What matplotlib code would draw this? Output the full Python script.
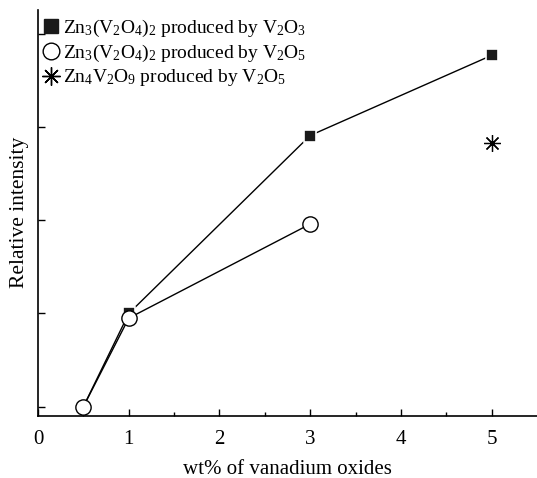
import matplotlib
matplotlib.use("Agg")
from matplotlib import pyplot as plt
from matplotlib.lines import Line2D

plt.rcParams["font.family"] = ["Liberation Serif", "DejaVu Serif"]
plt.rcParams["mathtext.fontset"] = "custom"
plt.rcParams["mathtext.rm"] = "Liberation Serif"
plt.rcParams["mathtext.it"] = "Liberation Serif:italic"

# data (relative intensity, arbitrary units)
wt_v2o3 = [0.5, 1, 3, 5]
int_v2o3 = [0.0, 1.0, 2.91, 3.77]
wt_v2o5 = [0.5, 1, 3]
int_v2o5 = [0.0, 0.95, 1.96]
wt_zn4 = [5]
int_zn4 = [2.83]

labels = [
    r"Zn$_3$(V$_2$O$_4$)$_2$ produced by V$_2$O$_3$",
    r"Zn$_3$(V$_2$O$_4$)$_2$ produced by V$_2$O$_5$",
    r"Zn$_4$V$_2$O$_9$ produced by V$_2$O$_5$",
]
xticks = [0, 1, 2, 3, 4, 5]
yticks = [0, 1, 2, 3, 4]

fig = plt.figure(figsize=(5.37, 4.78), dpi=100)
ax = fig.add_axes([0.0708, 0.1297, 0.9292, 0.85])

ax.plot(wt_v2o3, int_v2o3, color="black", lw=1, marker="s", ms=9,
        mfc="#1a1a1a", mec="white", mew=1.2, zorder=3)
ax.plot(wt_v2o5, int_v2o5, color="black", lw=1, marker="o", ms=11,
        mfc="white", mec="black", mew=1.0, zorder=4)
ax.plot(wt_zn4, int_zn4, ls="none", marker=(8, 2, 0), ms=12,
        mec="black", mew=0.9, zorder=3)

handles = [
    Line2D([], [], ls="none", marker="s", ms=10, mfc="#1a1a1a", mec="#1a1a1a"),
    Line2D([], [], ls="none", marker="o", ms=12, mfc="white", mec="black", mew=1.0),
    Line2D([], [], ls="none", marker=(8, 2, 0), ms=13, mec="black", mew=1.0),
]
ax.legend(handles, labels, loc="upper left", bbox_to_anchor=(-0.01, 1.005),
          frameon=False, fontsize=14, handlelength=0.8, handletextpad=0.25,
          labelspacing=0.2, borderaxespad=0.1)

ax.set_xlim(0, 5.5)
ax.set_ylim(-0.1, 4.26)
ax.set_xticks(xticks)
ax.set_xticks([0.5, 1.5, 2.5, 3.5, 4.5], minor=True)
ax.set_yticks(yticks)
ax.set_yticklabels([])
ax.tick_params(direction="in", length=5, width=1, labelsize=15)
ax.tick_params(which="minor", direction="in", length=3, width=1)
ax.tick_params(axis="x", pad=10)
for s in ["top", "right"]:
    ax.spines[s].set_visible(False)
for s in ["left", "bottom"]:
    ax.spines[s].set_linewidth(1.2)

ax.set_xlabel("wt% of vanadium oxides", fontsize=15, labelpad=8)
ax.set_ylabel("Relative intensity", fontsize=15.5, labelpad=3)

fig.savefig("out.png", dpi=100)
